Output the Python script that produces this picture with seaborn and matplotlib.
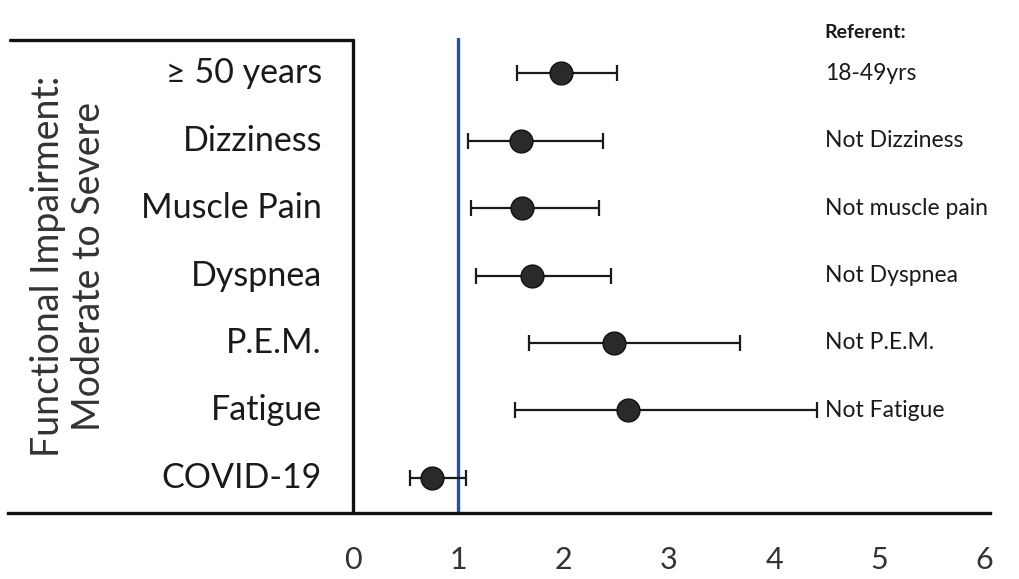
import numpy as np
import pandas as pd
import matplotlib
matplotlib.use('Agg')
import matplotlib.pyplot as plt
import seaborn as sns

# values (odds ratios with 95% CI)
factors = ['≥ 50 years', 'Dizziness', 'Muscle Pain', 'Dyspnea', 'P.E.M.', 'Fatigue', 'COVID-19']
referents = ['18-49yrs', 'Not Dizziness', 'Not muscle pain', 'Not Dyspnea', 'Not P.E.M.', 'Not Fatigue', '']
odds_ratio = [1.98, 1.60, 1.61, 1.70, 2.48, 2.61, 0.75]
ci_low = [1.56, 1.09, 1.12, 1.17, 1.67, 1.54, 0.54]
ci_high = [2.51, 2.37, 2.34, 2.45, 3.68, 4.41, 1.07]
xticks = [0, 1, 2, 3, 4, 5, 6]
side_title = 'Functional Impairment:\nModerate to Severe'

df = pd.DataFrame({'factor': factors, 'OR': odds_ratio, 'lo': ci_low, 'hi': ci_high,
                   'referent': referents})
df['row'] = np.arange(len(df))

sns.set_style('white')
plt.rcParams['font.family'] = ['Lato', 'DejaVu Sans']

W, H = 1019, 579
fig = plt.figure(figsize=(W / 100, H / 100), dpi=100)
ax = fig.add_axes([8 / W, (H - 513) / H, (990 - 8) / W, (513 - 38) / H])

# error bars then points
ax.errorbar(df['OR'], df['row'],
            xerr=[df['OR'] - df['lo'], df['hi'] - df['OR']],
            fmt='none', ecolor='#1a1a1a', elinewidth=1.6, capsize=6, capthick=1.6, zorder=2)
sns.scatterplot(data=df, x='OR', y='row', ax=ax, s=270, color='#2a2a2a',
                edgecolor='#111111', linewidth=1, zorder=3, legend=False)

# reference line at OR = 1
ax.axvline(1, color='#1f4fb8', lw=2.4, zorder=1)

ax.set_xlim(-3.276, 6.05)
ax.set_ylim(6.52, -0.52)
ax.set_xlabel('')
ax.set_ylabel('')
ax.set_yticks([])
ax.set_xticks(xticks)
ax.set_xticklabels([str(t) for t in xticks])
ax.tick_params(axis='x', length=0, pad=24, labelsize=22, labelcolor='#333333')

for s in ['top', 'left', 'right']:
    ax.spines[s].set_visible(False)
ax.spines['bottom'].set_linewidth(2.4)
ax.spines['bottom'].set_color('#111111')

# box around the factor labels
box_top = -0.489
ax.plot([0, 0], [6.52, box_top], color='#111111', lw=2.4, clip_on=False, zorder=2)
ax.plot([-3.255, 0], [box_top, box_top], color='#111111', lw=2.4, clip_on=False, zorder=2)

for _, r in df.iterrows():
    ax.text(-0.294, r['row'], r['factor'], ha='right', va='center', fontsize=24.5, color='#1a1a1a')
    if r['referent']:
        ax.text(4.48, r['row'], r['referent'], ha='left', va='center', fontsize=16.5, color='#1a1a1a')

ax.text(4.48, -0.6, 'Referent:', ha='left', va='center', fontsize=14, fontweight='bold',
        color='#1a1a1a')
ax.text(-2.70, 2.87, side_title, rotation=90, ha='center', va='center', multialignment='center',
        fontsize=27, color='#333333', linespacing=1.15)

fig.savefig('out.png', dpi=100)
